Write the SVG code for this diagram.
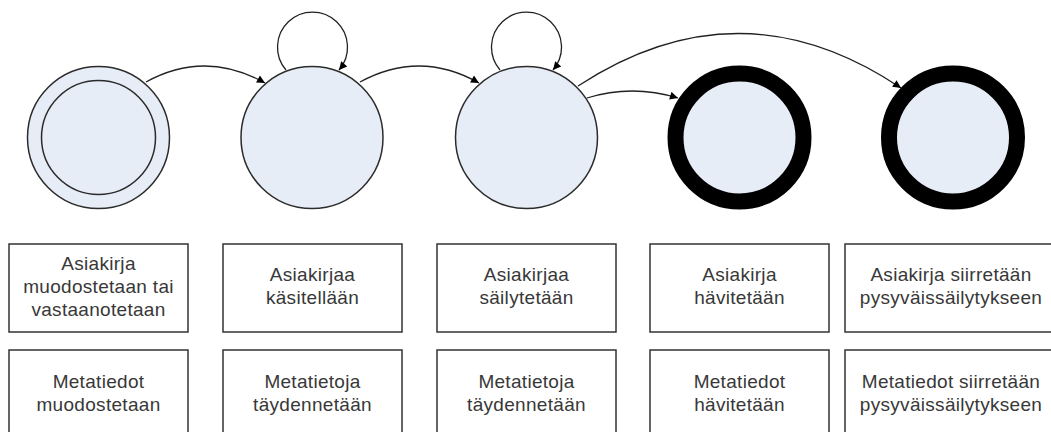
<svg xmlns="http://www.w3.org/2000/svg" width="1051" height="432" viewBox="0 0 1051 432">
<style>
.st{fill:#E7EDF7;stroke:#2b2b2b;stroke-width:1.5}
.fin{fill:#E7EDF7;stroke:#000;stroke-width:16}
.box{fill:#fff;stroke:#333;stroke-width:1.5}
.t{font-family:"Liberation Sans",Arial,sans-serif;font-size:19px;letter-spacing:0.3px;fill:#383838;text-anchor:middle}
.e{fill:none;stroke:#222;stroke-width:1.3}
</style>
<defs>
<marker id="ah" viewBox="0 0 10 10" refX="10" refY="5" markerWidth="10" markerHeight="8" orient="auto" markerUnits="userSpaceOnUse">
<path d="M0,0 L10,5 L0,10 z" fill="#000"/>
</marker>
</defs>
<g id="connectors">
<path class="e" d="M146 82 Q205 49.5 265 83" marker-end="url(#ah)"/>
<path class="e" d="M360 82 Q420 49.5 479 83" marker-end="url(#ah)"/>
<path class="e" d="M587 98 Q632 84 678 98" marker-end="url(#ah)"/>
<path class="e" d="M578 86 Q740 -20 901 88" marker-end="url(#ah)"/>
<path class="e" d="M286 70 A35 35 0 1 1 339 70" marker-end="url(#ah)"/>
<path class="e" d="M500 70 A35 35 0 1 1 553 70" marker-end="url(#ah)"/>
</g>
<g id="s1"><circle class="st" cx="98.5" cy="137.5" r="71"/><circle class="st" cx="98.5" cy="137.5" r="57"/></g>
<g id="s2"><circle class="st" cx="312" cy="137.5" r="71"/></g>
<g id="s3"><circle class="st" cx="526.5" cy="137.5" r="71"/></g>
<g id="s4"><circle class="fin" cx="739.5" cy="137.5" r="64"/></g>
<g id="s5"><circle class="fin" cx="953" cy="137.5" r="64"/></g>
<g id="b1"><rect class="box" x="9" y="244" width="179" height="88"/><text class="t"><tspan x="98.5" y="270">Asiakirja</tspan><tspan x="98.5" y="293">muodostetaan tai</tspan><tspan x="98.5" y="316">vastaanotetaan</tspan></text></g>
<g id="b2"><rect class="box" x="223" y="244" width="179" height="88"/><text class="t"><tspan x="312.5" y="281">Asiakirjaa</tspan><tspan x="312.5" y="304">käsitellään</tspan></text></g>
<g id="b3"><rect class="box" x="437" y="244" width="179" height="88"/><text class="t"><tspan x="526.5" y="281">Asiakirjaa</tspan><tspan x="526.5" y="304">säilytetään</tspan></text></g>
<g id="b4"><rect class="box" x="650" y="244" width="179" height="88"/><text class="t"><tspan x="739.5" y="281">Asiakirja</tspan><tspan x="739.5" y="304">hävitetään</tspan></text></g>
<g id="b5"><rect class="box" x="845" y="244" width="212" height="88"/><text class="t"><tspan x="951" y="281">Asiakirja siirretään</tspan><tspan x="951" y="304">pysyväissäilytykseen</tspan></text></g>
<g id="m1"><rect class="box" x="9" y="350" width="179" height="88"/><text class="t"><tspan x="98.5" y="388">Metatiedot</tspan><tspan x="98.5" y="411">muodostetaan</tspan></text></g>
<g id="m2"><rect class="box" x="223" y="350" width="179" height="88"/><text class="t"><tspan x="312.5" y="388">Metatietoja</tspan><tspan x="312.5" y="411">täydennetään</tspan></text></g>
<g id="m3"><rect class="box" x="437" y="350" width="179" height="88"/><text class="t"><tspan x="526.5" y="388">Metatietoja</tspan><tspan x="526.5" y="411">täydennetään</tspan></text></g>
<g id="m4"><rect class="box" x="650" y="350" width="179" height="88"/><text class="t"><tspan x="739.5" y="388">Metatiedot</tspan><tspan x="739.5" y="411">hävitetään</tspan></text></g>
<g id="m5"><rect class="box" x="845" y="350" width="212" height="88"/><text class="t"><tspan x="951" y="388">Metatiedot siirretään</tspan><tspan x="951" y="411">pysyväissäilytykseen</tspan></text></g>
</svg>
